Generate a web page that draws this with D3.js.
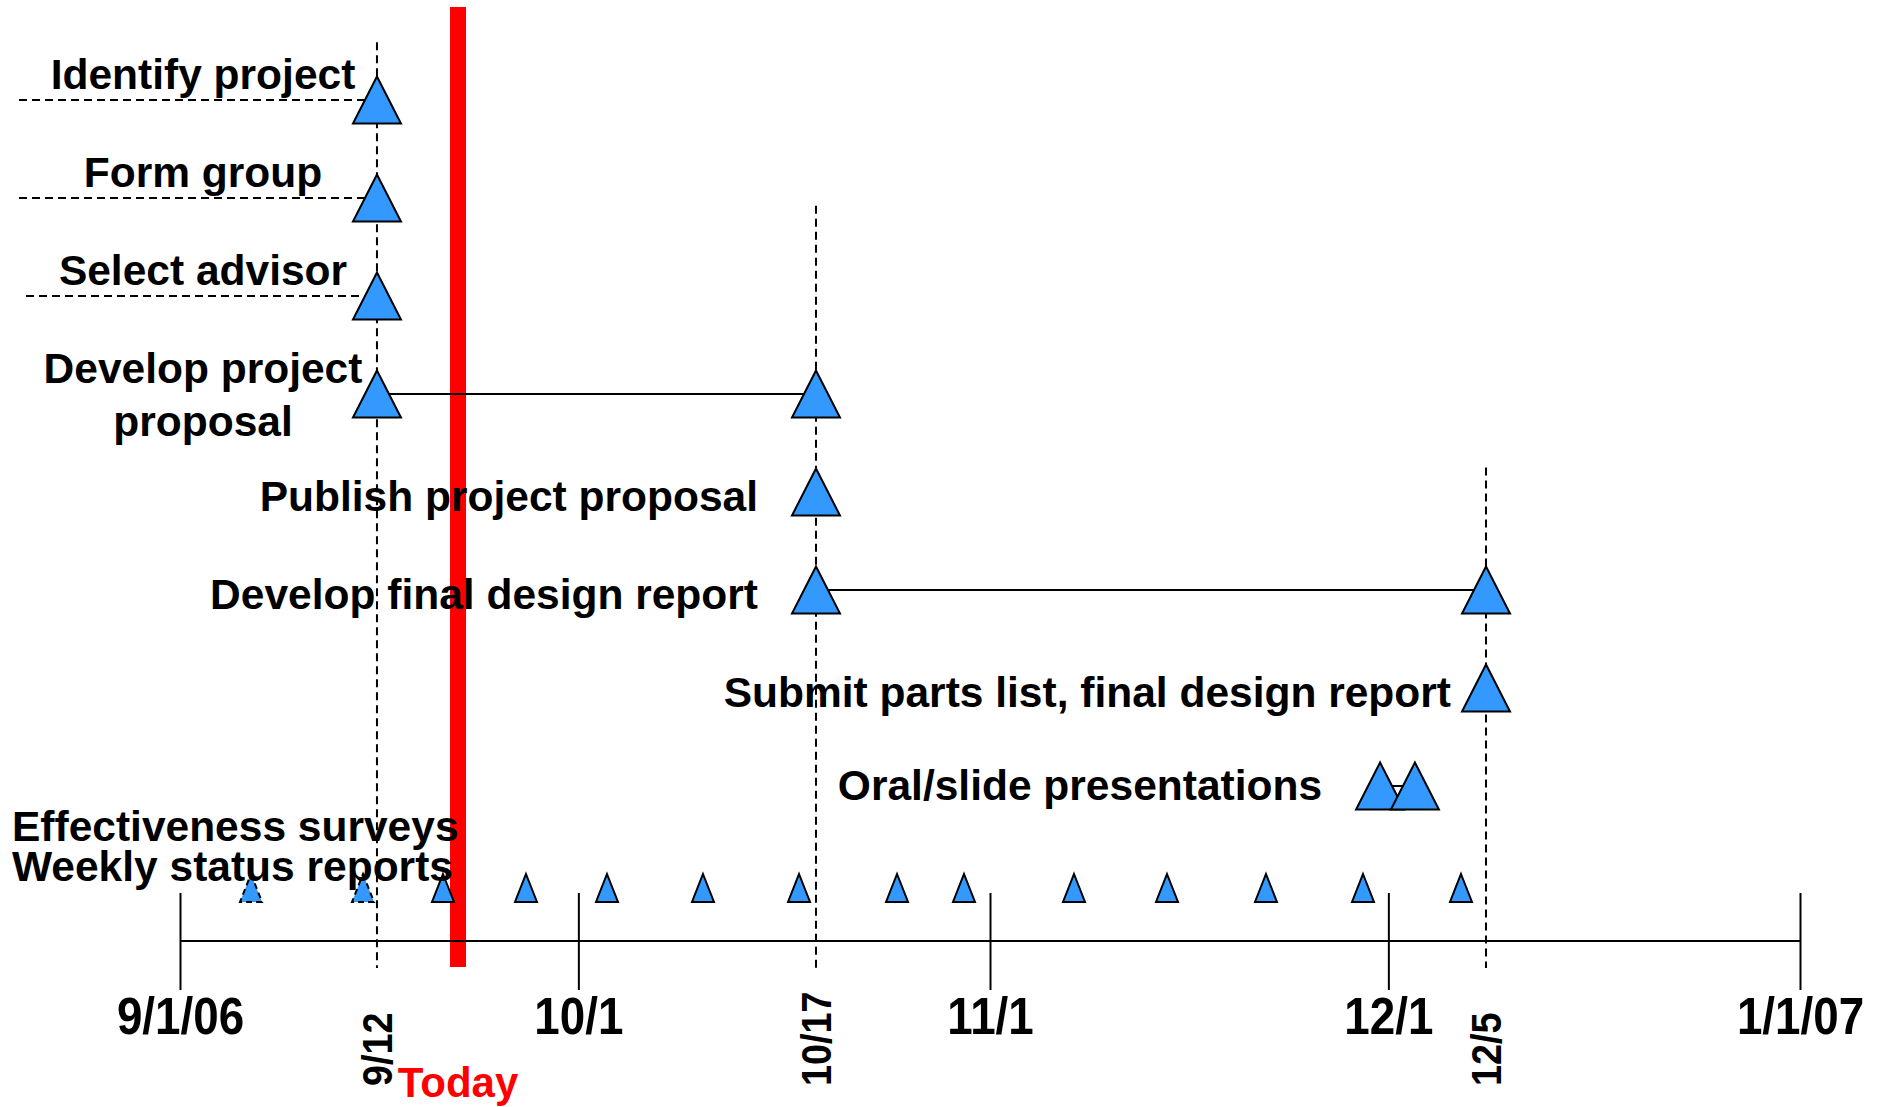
<!DOCTYPE html>
<html>
<head>
<meta charset="utf-8">
<script src="https://d3js.org/d3.v7.min.js"></script>
<style>
body { margin: 0; background: #fff; }
text { font-family: "Liberation Sans", Arial, sans-serif; font-weight: bold; }
</style>
</head>
<body>
<div id="graph"></div>
<script>
var w = 1885, h = 1107;
var parse = d3.timeParse("%Y-%m-%d %H:%M");

// tasks, top row first (label lines, start, end)
var taskLabels = [["Identify project"], ["Form group"], ["Select advisor"], ["Develop project", "proposal"],
  ["Publish project proposal"], ["Develop final design report"], ["Submit parts list, final design report"],
  ["Oral/slide presentations"]];
var taskStart = ["2006-09-15 20:00", "2006-09-15 20:00", "2006-09-15 20:00", "2006-09-15 20:00",
  "2006-10-18 21:30", "2006-10-18 21:30", "2006-12-08 08:30", "2006-11-30 09:00"];
var taskEnd = [null, null, null, "2006-10-18 21:30", null, "2006-12-08 08:30", null, "2006-12-03 00:00"];

// time axis
var monthDates = ["2006-09-01 00:00", "2006-10-01 00:00", "2006-11-01 00:00", "2006-12-01 00:00", "2007-01-01 00:00"];
var monthLabels = ["9/1/06", "10/1", "11/1", "12/1", "1/1/07"];

// key dates (dashed lines), row where each line starts
var keyDates = ["2006-09-15 20:00", "2006-10-18 21:30", "2006-12-08 08:30"];
var keyLabels = ["9/12", "10/17", "12/5"];
var keyFromRow = [-0.59, 1.08, 3.75];
var today = "2006-09-21 22:30";

// recurring items
var surveyDates = ["2006-09-06 08:20", "2006-09-14 18:45"];
var weeklyDates = ["2006-09-20 19:20", "2006-09-27 01:20", "2006-10-03 03:45", "2006-10-10 09:15",
  "2006-10-17 14:50", "2006-10-25 00:00", "2006-10-30 01:00", "2006-11-07 07:50", "2006-11-14 07:55",
  "2006-11-21 18:50", "2006-11-29 02:10", "2006-12-06 11:15"];

var blue = "#3399ff";
var axisY = 941;
var weeklyY = 888;
var leftCol = 203;
var labelSize = 42.5;

var svg = d3.select("#graph").append("svg")
  .attr("width", w)
  .attr("height", h);

var x = d3.scaleTime()
  .domain([parse(monthDates[0]), parse(monthDates[monthDates.length - 1])])
  .range([180, 1800]);

var yRow = d3.scaleLinear()
  .domain([0, taskLabels.length - 1])
  .range([100, 786]);

function tri(cx, cy, tw, th) {
  return "M" + cx + "," + (cy - th / 2) + "L" + (cx + tw / 2) + "," + (cy + th / 2) +
    "L" + (cx - tw / 2) + "," + (cy + th / 2) + "Z";
}

//today bar, behind everything
svg.append("rect")
  .attr("x", x(parse(today)) - 8)
  .attr("y", 7)
  .attr("width", 16)
  .attr("height", 960)
  .attr("fill", "#ff0000");

//dashed key date lines
svg.selectAll(".key")
  .data(keyDates)
  .enter()
  .append("line")
  .attr("x1", function(d) { return x(parse(d)); })
  .attr("x2", function(d) { return x(parse(d)); })
  .attr("y1", function(d, i) { return yRow(keyFromRow[i]); })
  .attr("y2", 968)
  .attr("stroke", "#000")
  .attr("stroke-width", 2)
  .attr("stroke-dasharray", "8,5");

//axis
svg.append("line")
  .attr("x1", x.range()[0])
  .attr("x2", x.range()[1])
  .attr("y1", axisY)
  .attr("y2", axisY)
  .attr("stroke", "#000")
  .attr("stroke-width", 2);

var gAxis = svg.append("g")
  .attr("transform", "translate(0,893)")
  .call(d3.axisBottom(x)
    .tickValues(monthDates.map(parse))
    .tickFormat(function(d, i) { return monthLabels[i]; })
    .tickSize(97)
    .tickPadding(0));
gAxis.attr("font-size", null).attr("font-family", null);
gAxis.select(".domain").remove();
gAxis.selectAll(".tick line").attr("stroke", "#000").attr("stroke-width", 2);
gAxis.selectAll(".tick text")
  .attr("y", 141)
  .attr("dy", null)
  .attr("fill", "#000")
  .attr("font-size", 52)
  .attr("transform", "scale(0.88,1)");

//leaders and duration lines
var tasks = taskLabels.map(function(l, i) {
  return { lines: l, i: i, start: parse(taskStart[i]), end: taskEnd[i] ? parse(taskEnd[i]) : null };
});

svg.selectAll(".leader")
  .data(tasks.filter(function(d) { return d.i < 4 && !d.end; }))
  .enter()
  .append("line")
  .attr("x1", function(d) { return d.i == 2 ? 26 : 19; })
  .attr("x2", function(d) { return x(d.start); })
  .attr("y1", function(d) { return yRow(d.i); })
  .attr("y2", function(d) { return yRow(d.i); })
  .attr("stroke", "#000")
  .attr("stroke-width", 2)
  .attr("stroke-dasharray", "8,5");

svg.selectAll(".span")
  .data(tasks.filter(function(d) { return d.end; }))
  .enter()
  .append("line")
  .attr("x1", function(d) { return x(d.start); })
  .attr("x2", function(d) { return x(d.end); })
  .attr("y1", function(d) { return yRow(d.i); })
  .attr("y2", function(d) { return yRow(d.i); })
  .attr("stroke", "#000")
  .attr("stroke-width", 2);

//milestone triangles
var marks = [];
tasks.forEach(function(d) {
  marks.push({ date: d.start, i: d.i });
  if (d.end) marks.push({ date: d.end, i: d.i });
});
svg.selectAll(".ms")
  .data(marks)
  .enter()
  .append("path")
  .attr("d", function(d) { return tri(x(d.date), yRow(d.i), 48, 47); })
  .attr("fill", blue)
  .attr("stroke", "#000")
  .attr("stroke-width", 2)
  .attr("stroke-linejoin", "miter");

//recurring triangles
svg.selectAll(".weekly")
  .data(weeklyDates)
  .enter()
  .append("path")
  .attr("d", function(d) { return tri(x(parse(d)), weeklyY, 22, 28); })
  .attr("fill", blue)
  .attr("stroke", "#000")
  .attr("stroke-width", 2);

svg.selectAll(".survey")
  .data(surveyDates)
  .enter()
  .append("path")
  .attr("d", function(d) { return tri(x(parse(d)), weeklyY, 22, 28); })
  .attr("fill", blue)
  .attr("stroke", "#000")
  .attr("stroke-width", 2)
  .attr("stroke-dasharray", "6,4");

//task labels
tasks.forEach(function(d) {
  var t = svg.append("text")
    .attr("font-size", labelSize)
    .attr("fill", "#000");
  if (d.i < 4) {
    t.attr("text-anchor", "middle");
    d.lines.forEach(function(s, k) {
      t.append("tspan")
        .attr("x", leftCol)
        .attr("y", yRow(d.i) - 11 + k * 53)
        .text(s);
    });
  } else {
    var gap = d.lines[0].indexOf("Submit") === 0 ? 35 : 58;
    t.attr("text-anchor", "end")
      .attr("x", x(d.start) - gap)
      .attr("y", yRow(d.i) + (d.i == 7 ? 14 : 19))
      .text(d.lines[0]);
  }
});

svg.append("text")
  .attr("x", 12)
  .attr("y", 841)
  .attr("font-size", labelSize)
  .text("Effectiveness surveys");
svg.append("text")
  .attr("x", 12)
  .attr("y", 881)
  .attr("font-size", labelSize)
  .text("Weekly status reports");

//key date labels, rotated
svg.selectAll(".keylab")
  .data(keyDates)
  .enter()
  .append("text")
  .attr("transform", function(d) { return "translate(" + (x(parse(d)) + 15) + ",1086) rotate(-90) scale(0.9,1)"; })
  .attr("font-size", 42)
  .attr("fill", "#000")
  .text(function(d, i) { return keyLabels[i]; });

svg.append("text")
  .attr("x", x(parse(today)))
  .attr("y", 1097)
  .attr("text-anchor", "middle")
  .attr("font-size", 42)
  .attr("fill", "#ff0000")
  .text("Today");
</script>
</body>
</html>
